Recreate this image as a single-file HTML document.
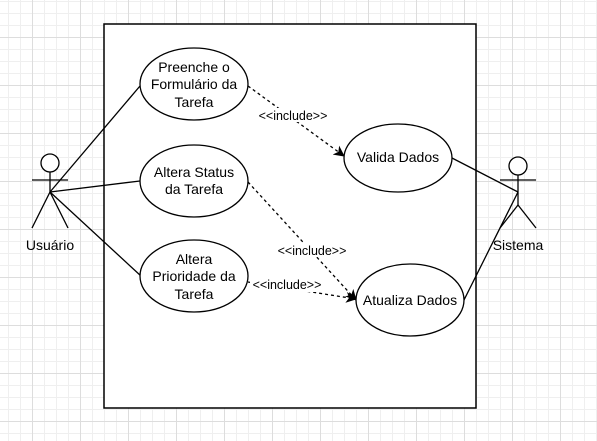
<!DOCTYPE html>
<html><head><meta charset="utf-8"><style>
html,body{margin:0;padding:0;}
body{width:597px;height:441px;overflow:hidden;background:#fff;
background-image:linear-gradient(#dddddd 1px,transparent 1px),linear-gradient(90deg,#dddddd 1px,transparent 1px),linear-gradient(#efefef 1px,transparent 1px),linear-gradient(90deg,#efefef 1px,transparent 1px);
background-size:48px 48px,48px 48px,12px 12px,12px 12px;
background-position:0 37px,32px 0,0 1px,8px 0;}
svg{position:absolute;left:0;top:0;}
text{font-family:"Liberation Sans",Arial,sans-serif;font-size:14px;fill:#000;text-anchor:middle;}
.s{font-size:12.5px;}
</style></head><body>
<svg width="597" height="441" viewBox="0 0 597 441">
<defs><marker id="a" markerWidth="11" markerHeight="11" refX="10" refY="5.5" orient="auto" markerUnits="userSpaceOnUse"><path d="M0,0 L11,5.5 L0,11 L3,5.5 Z" fill="#000"/></marker></defs>
<rect x="104" y="24" width="372" height="384" fill="#fff" stroke="#000" stroke-width="1.5"/>
<g stroke="#000" stroke-width="1.3" fill="none">
<circle cx="50" cy="163" r="9" fill="#fff"/>
<line x1="50" y1="172" x2="50" y2="192"/><line x1="32" y1="180" x2="68" y2="180"/>
<line x1="50" y1="192" x2="32" y2="228"/><line x1="50" y1="192" x2="68" y2="228"/>
<circle cx="518" cy="166" r="9" fill="#fff"/>
<line x1="518" y1="175" x2="518" y2="205"/><line x1="500" y1="180" x2="536" y2="180"/>
<line x1="518" y1="205" x2="500" y2="228"/><line x1="518" y1="205" x2="536" y2="228"/>
<line x1="50" y1="192" x2="140" y2="86"/><line x1="50" y1="192" x2="140" y2="181"/><line x1="50" y1="192" x2="141" y2="276"/>
<line x1="518" y1="192" x2="452" y2="158"/><line x1="518" y1="192" x2="464" y2="300"/>
<g stroke-dasharray="3,3">
<line x1="248" y1="86" x2="344" y2="156" marker-end="url(#a)"/>
<line x1="248" y1="182" x2="356" y2="300" marker-end="url(#a)"/>
<line x1="248" y1="282" x2="356" y2="299" marker-end="url(#a)"/>
</g>
<ellipse cx="194" cy="84" rx="54" ry="36" fill="#fff"/>
<ellipse cx="194" cy="181" rx="54" ry="36" fill="#fff"/>
<ellipse cx="194" cy="276" rx="54" ry="36" fill="#fff"/>
<ellipse cx="398" cy="158" rx="54" ry="34" fill="#fff"/>
<ellipse cx="410" cy="300" rx="54" ry="36" fill="#fff"/>
</g>
<rect x="256" y="108" width="74" height="14" fill="#fff"/>
<text class="s" x="293" y="120">&lt;&lt;include&gt;&gt;</text>
<rect x="274" y="243" width="76" height="14" fill="#fff"/>
<text class="s" x="312" y="255">&lt;&lt;include&gt;&gt;</text>
<rect x="250" y="278" width="74" height="14" fill="#fff"/>
<text class="s" x="287" y="289">&lt;&lt;include&gt;&gt;</text>
<text x="194" y="72">Preenche o</text><text x="194" y="89">Formulário da</text><text x="194" y="107">Tarefa</text>
<text x="194" y="177">Altera Status</text><text x="194" y="194">da Tarefa</text>
<text x="194" y="264">Altera</text><text x="194" y="281">Prioridade da</text><text x="194" y="299">Tarefa</text>
<text x="398" y="162">Valida Dados</text>
<text x="410" y="305">Atualiza Dados</text>
<text x="50" y="250">Usuário</text>
<text x="518" y="250">Sistema</text>
</svg>
</body></html>
